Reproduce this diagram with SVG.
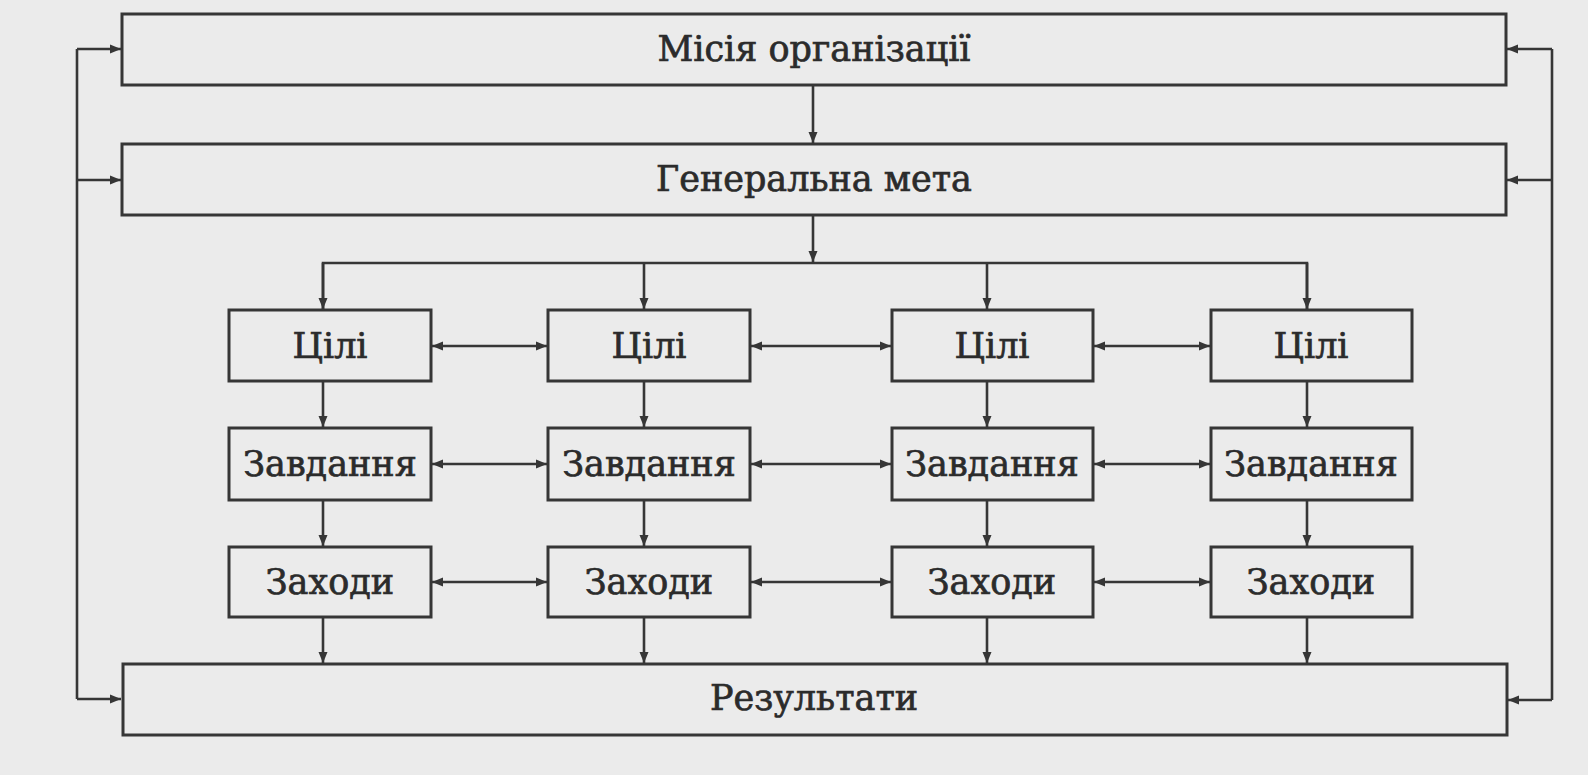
<svg xmlns="http://www.w3.org/2000/svg" width="1588" height="775" viewBox="0 0 1588 775">
<style>
.box{fill:none;stroke:#363636;stroke-width:3}
.lbl{font-family:"DejaVu Serif","Liberation Serif",serif;font-size:35px;fill:#2b2b2b;stroke:#2b2b2b;stroke-width:0.7;text-anchor:middle}
.ln{fill:none;stroke:#363636;stroke-width:2.6}
</style>
<defs>
<marker id="ah" markerWidth="12" markerHeight="10" refX="11" refY="5" orient="auto-start-reverse" markerUnits="userSpaceOnUse">
<path d="M0,0.5 L11,5 L0,9.5 Z" fill="#363636"/>
</marker>
</defs>
<rect width="1588" height="775" fill="#ebebeb"/>

<g id="connectors">
<line class="ln" x1="813" y1="85" x2="813" y2="143" marker-end="url(#ah)"/>
<line class="ln" x1="813" y1="215" x2="813" y2="262" marker-end="url(#ah)"/>
<polyline class="ln" points="323,309 323,263 1307,263 1307,309"/>
<line class="ln" x1="323" y1="263" x2="323" y2="309" marker-end="url(#ah)"/>
<line class="ln" x1="644" y1="263" x2="644" y2="309" marker-end="url(#ah)"/>
<line class="ln" x1="987" y1="263" x2="987" y2="309" marker-end="url(#ah)"/>
<line class="ln" x1="1307" y1="263" x2="1307" y2="309" marker-end="url(#ah)"/>
<line class="ln" x1="323" y1="381" x2="323" y2="427" marker-end="url(#ah)"/>
<line class="ln" x1="644" y1="381" x2="644" y2="427" marker-end="url(#ah)"/>
<line class="ln" x1="987" y1="381" x2="987" y2="427" marker-end="url(#ah)"/>
<line class="ln" x1="1307" y1="381" x2="1307" y2="427" marker-end="url(#ah)"/>
<line class="ln" x1="323" y1="500" x2="323" y2="546" marker-end="url(#ah)"/>
<line class="ln" x1="644" y1="500" x2="644" y2="546" marker-end="url(#ah)"/>
<line class="ln" x1="987" y1="500" x2="987" y2="546" marker-end="url(#ah)"/>
<line class="ln" x1="1307" y1="500" x2="1307" y2="546" marker-end="url(#ah)"/>
<line class="ln" x1="323" y1="617" x2="323" y2="663" marker-end="url(#ah)"/>
<line class="ln" x1="644" y1="617" x2="644" y2="663" marker-end="url(#ah)"/>
<line class="ln" x1="987" y1="617" x2="987" y2="663" marker-end="url(#ah)"/>
<line class="ln" x1="1307" y1="617" x2="1307" y2="663" marker-end="url(#ah)"/>
<line class="ln" x1="432" y1="346" x2="547" y2="346" marker-start="url(#ah)" marker-end="url(#ah)"/>
<line class="ln" x1="751" y1="346" x2="891" y2="346" marker-start="url(#ah)" marker-end="url(#ah)"/>
<line class="ln" x1="1094" y1="346" x2="1210" y2="346" marker-start="url(#ah)" marker-end="url(#ah)"/>
<line class="ln" x1="432" y1="464" x2="547" y2="464" marker-start="url(#ah)" marker-end="url(#ah)"/>
<line class="ln" x1="751" y1="464" x2="891" y2="464" marker-start="url(#ah)" marker-end="url(#ah)"/>
<line class="ln" x1="1094" y1="464" x2="1210" y2="464" marker-start="url(#ah)" marker-end="url(#ah)"/>
<line class="ln" x1="432" y1="582" x2="547" y2="582" marker-start="url(#ah)" marker-end="url(#ah)"/>
<line class="ln" x1="751" y1="582" x2="891" y2="582" marker-start="url(#ah)" marker-end="url(#ah)"/>
<line class="ln" x1="1094" y1="582" x2="1210" y2="582" marker-start="url(#ah)" marker-end="url(#ah)"/>
<line class="ln" x1="77" y1="49" x2="77" y2="699"/>
<line class="ln" x1="77" y1="49" x2="121" y2="49" marker-end="url(#ah)"/>
<line class="ln" x1="77" y1="180" x2="121" y2="180" marker-end="url(#ah)"/>
<line class="ln" x1="77" y1="699" x2="121" y2="699" marker-end="url(#ah)"/>
<line class="ln" x1="1552" y1="49" x2="1552" y2="700"/>
<line class="ln" x1="1552" y1="49" x2="1507" y2="49" marker-end="url(#ah)"/>
<line class="ln" x1="1552" y1="180" x2="1507" y2="180" marker-end="url(#ah)"/>
<line class="ln" x1="1552" y1="700" x2="1508" y2="700" marker-end="url(#ah)"/>
</g>

<g id="mission"><rect class="box" x="122" y="14" width="1384" height="71"/><text class="lbl" x="814" y="61">Місія організації</text></g>
<g id="goal"><rect class="box" x="122" y="144" width="1384" height="71"/><text class="lbl" x="814" y="191">Генеральна мета</text></g>

<g id="tsili1"><rect class="box" x="229" y="310" width="202" height="71"/><text class="lbl" x="330" y="358">Цілі</text></g>
<g id="tsili2"><rect class="box" x="548" y="310" width="202" height="71"/><text class="lbl" x="649" y="358">Цілі</text></g>
<g id="tsili3"><rect class="box" x="892" y="310" width="201" height="71"/><text class="lbl" x="992" y="358">Цілі</text></g>
<g id="tsili4"><rect class="box" x="1211" y="310" width="201" height="71"/><text class="lbl" x="1311" y="358">Цілі</text></g>

<g id="zavd1"><rect class="box" x="229" y="428" width="202" height="72"/><text class="lbl" x="330" y="476">Завдання</text></g>
<g id="zavd2"><rect class="box" x="548" y="428" width="202" height="72"/><text class="lbl" x="649" y="476">Завдання</text></g>
<g id="zavd3"><rect class="box" x="892" y="428" width="201" height="72"/><text class="lbl" x="992" y="476">Завдання</text></g>
<g id="zavd4"><rect class="box" x="1211" y="428" width="201" height="72"/><text class="lbl" x="1311" y="476">Завдання</text></g>

<g id="zakh1"><rect class="box" x="229" y="547" width="202" height="70"/><text class="lbl" x="330" y="594">Заходи</text></g>
<g id="zakh2"><rect class="box" x="548" y="547" width="202" height="70"/><text class="lbl" x="649" y="594">Заходи</text></g>
<g id="zakh3"><rect class="box" x="892" y="547" width="201" height="70"/><text class="lbl" x="992" y="594">Заходи</text></g>
<g id="zakh4"><rect class="box" x="1211" y="547" width="201" height="70"/><text class="lbl" x="1311" y="594">Заходи</text></g>

<g id="results"><rect class="box" x="123" y="664" width="1384" height="71"/><text class="lbl" x="814" y="710">Результати</text></g>
</svg>
